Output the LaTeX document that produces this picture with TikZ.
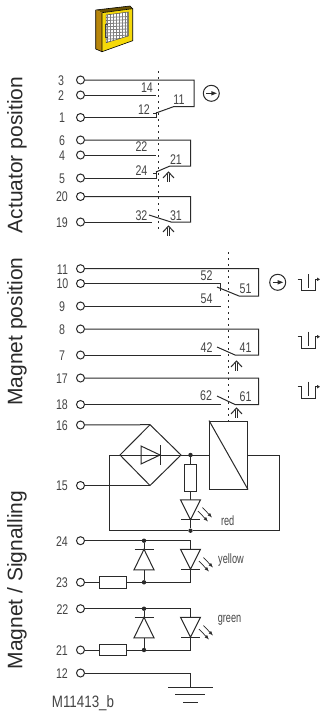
\documentclass[tikz,border=0pt]{standalone}
\usepackage{fontspec}
\setmainfont{Liberation Sans}
\newfontfamily\condf[FakeStretch=0.76]{Liberation Sans}
\newfontfamily\condg[FakeStretch=0.68]{Liberation Sans}
\newfontfamily\condm[FakeStretch=0.81]{Liberation Sans}
\usetikzlibrary{arrows.meta}
\definecolor{ink}{HTML}{2A2A2A}
\definecolor{txt}{HTML}{444444}
\definecolor{doory}{HTML}{F5D90A}
\definecolor{doorb}{HTML}{B8860B}
\definecolor{doord}{HTML}{6B5200}
\tikzset{
 wire/.style={draw=ink,line width=1pt,line join=miter},
 term/.style={circle,draw=ink,line width=1pt,fill=white,minimum size=8pt,inner sep=0pt},
 num/.style={text=txt,inner sep=0pt,font=\condf\fontsize{14}{14}\selectfont},
 lab/.style={text=txt,inner sep=0pt,font=\condg\fontsize{13.5}{14}\selectfont},
 code/.style={text=txt,inner sep=0pt,font=\condm\fontsize{16.5}{17}\selectfont},
 side/.style={text=ink,inner sep=0pt,rotate=90,font=\fontsize{21}{21}\selectfont},
 dotl/.style={draw=ink,line width=1.2pt,dash pattern=on 1.8pt off 4.2pt},
 jun/.style={circle,fill=ink,minimum size=4.4pt,inner sep=0pt},
 boxr/.style={draw=ink,line width=1pt,fill=white},
}
\newcommand{\termn}[4]{\node[term] (#1) at (80.5,#2) {}; \node[num] at (#3,#2+0.5) {#4};}
\newcommand{\actarrow}[2]{%
 \draw[wire,line width=0.8pt] (#1-1.3,#2+2) -- (#1-1.3,#2+10) (#1+1.3,#2+2) -- (#1+1.3,#2+10);
 \draw[wire] (#1-5.5,#2+6) -- (#1,#2) -- (#1+5.5,#2+6);}
\newcommand{\circarrow}[3]{%
 \node[circle,draw=ink,line width=1pt,minimum size=16pt,inner sep=0pt] (#3) at (#1,#2) {};
 \draw[wire] (#1-5,#2) -- (#1+1,#2);
 \fill[ink] (#1+5.5,#2) -- (#1,#2-2.2) -- (#1,#2+2.2) -- cycle;}
\newcommand{\pulse}[2]{%
 \draw[wire] (#1,#2) -- (#1+4,#2) -- (#1+4,#2+11.5) -- (#1+17.5,#2+11.5) -- (#1+17.5,#2) -- (#1+20,#2);
 \draw[wire] (#1+10.5,#2-5) -- (#1+10.5,#2+9);
 \fill[ink] (#1+22.5,#2) -- (#1+19.5,#2-1.8) -- (#1+19.5,#2+1.8) -- cycle;}
\newcommand{\ledat}[2]{%
 \draw[wire,fill=white] (#1-10,#2) -- (#1+10,#2) -- (#1,#2+20) -- cycle;
 \draw[wire] (#1-9.5,#2+20) -- (#1+9.5,#2+20);}
\newcommand{\rays}[2]{%
 \draw[wire,line width=0.7pt,-{Latex[length=4.5pt,width=3.5pt]}] (#1,#2+3.5) -- (#1+10,#2+14);
 \draw[wire,line width=0.7pt,-{Latex[length=4.5pt,width=3.5pt]}] (#1+4.5,#2) -- (#1+14,#2+10);}
\newcommand{\zener}[2]{%
 \draw[wire] (#1-9.5,#2) -- (#1+9.5,#2);
 \draw[wire,fill=white] (#1,#2) -- (#1+10,#2+20.5) -- (#1-10,#2+20.5) -- cycle;}
\begin{document}
\begin{tikzpicture}[x=1pt,y=-1pt]
\useasboundingbox (0,0) rectangle (320,713);
% door icon
\fill[doord] (96,10) -- (130,6) -- (132.7,8.7) -- (102,12.7) -- cycle;
\fill[doorb] (95.7,10) -- (102,12.7) -- (102,51.7) -- (95.7,49) -- cycle;
\draw[black,line width=0.6pt] (95.7,10) -- (130,6) -- (132.7,8.7) (95.7,10) -- (95.7,49) -- (102,51.7);
\fill[doory,draw=black,line width=0.6pt] (102,12.7) -- (132.7,8.7) -- (132.7,40.7) -- (102,51.7) -- cycle;
\begin{scope}
 \clip (106,15) -- (128.3,12) -- (128.3,36) -- (106,42.7) -- cycle;
 \fill[white] (104,10) rectangle (130,44);
 \foreach \i in {0,...,7} \draw[gray,line width=0.8pt] (107.5+\i*2.9,10) -- (107.5+\i*2.9,44);
 \foreach \i in {0,...,9} \draw[gray,line width=0.8pt] (104,17.5+\i*3.1) -- (130,17.5+\i*3.1-1);
\end{scope}
\draw[black!70,line width=0.5pt] (106,15) -- (128.3,12) -- (128.3,36) -- (106,42.7) -- cycle;
\draw[black!75,line width=0.9pt] (108,24) -- (105.5,24) -- (105.5,37.5) -- (108,37.5);
% side titles
\node[side] at (17,155) {Actuator position};
\node[side] at (17,331.5) {Magnet position};
\node[side] at (17,580) {Magnet / Signalling};
% dotted
\draw[dotl] (158.5,71) -- (158.5,232);
\draw[dotl] (228.5,252) -- (228.5,421);
% terminals
\termn{a3}{80}{61}{3}
\termn{a2}{95}{61}{2}
\termn{a1}{117.5}{62}{1}
\termn{a6}{140}{62}{6}
\termn{a4}{155}{62}{4}
\termn{a5}{178}{62}{5}
\termn{a20}{196.5}{62}{20}
\termn{a19}{222}{62}{19}
\termn{m11}{268.7}{62.5}{11}
\termn{m10}{283.5}{62.5}{10}
\termn{m9}{306}{62}{9}
\termn{m8}{329}{62}{8}
\termn{m7}{355}{62}{7}
\termn{m17}{378}{62}{17}
\termn{m18}{404.5}{62}{18}
\termn{s16}{425}{62}{16}
\termn{s15}{485.5}{62}{15}
\termn{s24}{540.7}{62}{24}
\termn{s23}{582.3}{62}{23}
\termn{s22}{608.7}{62.5}{22}
\termn{s21}{650}{62}{21}
\termn{s12}{673}{62}{12}
% actuator contacts
\draw[wire] (a3) -- (194,80) -- (194,106.5) -- (174,106.5) -- (156,113);
\draw[wire] (a2) -- (156,95);
\draw[wire] (a1) -- (156,117.5) -- (156,112) (153,113.5) -- (156,113.5);
\draw[wire] (a6) -- (190.5,140) -- (190.5,166) -- (170,166) -- (156,172);
\draw[wire] (a4) -- (156,155);
\draw[wire] (a5) -- (156,178) -- (156,171) (153,173) -- (156,173);
\draw[wire] (a20) -- (190.5,196.5) -- (190.5,222) -- (171,222) -- (149,215);
\draw[wire] (a19) -- (152,222);
% magnet contacts
\draw[wire] (m11) -- (258.5,268.7) -- (258.5,296) -- (239,296) -- (217,287);
\draw[wire] (m10) -- (220.5,283.5) -- (220.5,291);
\draw[wire] (m9) -- (220.5,306);
\draw[wire] (m8) -- (258.5,329) -- (258.5,355) -- (235,355) -- (217,347);
\draw[wire] (m7) -- (220.5,355);
\draw[wire] (m17) -- (258.5,378) -- (258.5,404.5) -- (235,404.5) -- (217,396);
\draw[wire] (m18) -- (220.5,404.5);
% contact labels
\foreach \x/\y/\t in {147/87.5/14,179/99.5/11,144/110/12,141.5/147/22,176/160/21,141.5/171/24,141.5/215.5/32,176/215.5/31,206.5/276/52,245.5/289/51,206.5/298.5/54,206.5/347.5/42,245.5/348/41,206/396/62,245.5/396.5/61}
 \node[num] at (\x,\y) {\t};
% actuating arrows
\actarrow{168.5}{172}
\actarrow{168.5}{226}
\actarrow{236.5}{361}
\actarrow{236.5}{408}
% symbols
\circarrow{211.3}{93.3}{c1}
\circarrow{277.7}{282.3}{c2}
\pulse{297.5}{279.3}
\pulse{297.5}{336.7}
\pulse{297.5}{386.7}
% bridge
\coordinate (bl) at (120,455); \coordinate (bt) at (150,424.7);
\coordinate (br) at (181,455); \coordinate (bb) at (150,485.5);
\draw[wire] (bl) -- (bt) -- (br) -- (bb) -- cycle;
\draw[wire] (s16) -- (bt);
\draw[wire] (s15) -- (bb);
\node[draw=ink,line width=1pt,minimum width=38pt,minimum height=68pt,inner sep=0pt] (coil) at (228.5,455) {};
\draw[wire] (coil.north west) -- (coil.south east);
\node[jun] (jt) at (190.5,455) {};
\node[jun] (jb) at (190.5,530.7) {};
\draw[wire] (coil.west) -- (109,455) -- (109,530.7) -- (jb);
\draw[wire] (coil.east) -- (279,455) -- (279,530.7) -- (jb);
\draw[wire] (141,446) -- (141,464) -- (160,455) -- cycle;
\draw[wire] (160,445) -- (160,465);
% red branch
\draw[wire] (jt) -- (jb);
\node[boxr,minimum width=12pt,minimum height=27pt,inner sep=0pt] (rr) at (190.7,477.5) {};
\ledat{190.5}{499.8}
\rays{198}{507.5}
\node[lab] at (227.7,521) {red};
% yellow
\node[jun] (y1) at (144,540.7) {};
\node[jun] (y2) at (144,582.3) {};
\coordinate (y3) at (190.5,540.7);
\coordinate (y4) at (190.5,582.3);
\node[boxr,minimum width=27pt,minimum height=11.6pt,inner sep=0pt] (ry) at (112.5,582.3) {};
\draw[wire] (s24) -- (y1) -- (y3) -- (y4) -- (y2) -- (ry);
\draw[wire] (s23) -- (ry);
\draw[wire] (y1) -- (y2);
\zener{144}{549.3}
\ledat{190.5}{549.3}
\rays{199}{557.5}
\node[lab] at (231,560.5) {yellow};
% green
\node[jun] (g1) at (144,608.7) {};
\node[jun] (g2) at (144,650) {};
\coordinate (g3) at (190.5,608.7);
\coordinate (g4) at (190.5,650);
\node[boxr,minimum width=27pt,minimum height=11.6pt,inner sep=0pt] (rg) at (112.5,650) {};
\draw[wire] (s22) -- (g1) -- (g3) -- (g4) -- (g2) -- (rg);
\draw[wire] (s21) -- (rg);
\draw[wire] (g1) -- (g2);
\zener{144}{617.3}
\ledat{190.5}{617.3}
\rays{199}{625.5}
\node[lab] at (229.5,620) {green};
% ground
\coordinate (gnd) at (190.5,687.3);
\draw[wire] (s12) -- (190.5,673) -- (gnd);
\draw[wire] (168,687.3) -- (213,687.3);
\draw[wire] (175,694.3) -- (205,694.3);
\draw[wire] (183,702.3) -- (198,702.3);
\node[code] at (83,703) {M11413\_b};
\end{tikzpicture}
\end{document}
